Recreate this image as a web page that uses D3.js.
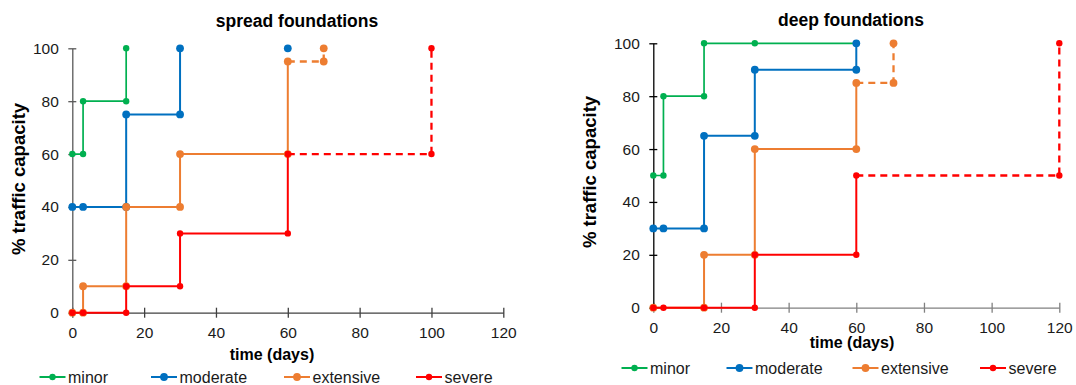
<!DOCTYPE html>
<html>
<head>
<meta charset="utf-8">
<script src="https://cdn.jsdelivr.net/npm/d3@7"></script>
<style>
	body { margin: 0; background: #fff; }
	svg { display: block; font-family: "Liberation Sans", Arial, sans-serif; }
</style>
</head>
<body>
<svg width="1076" height="385"></svg>
<script>
// series order and legend labels
const seriesNames = ['minor', 'moderate', 'extensive', 'severe'];
const seriesColors = ['#00b050', '#0070c0', '#ed7d31', '#ff0000'];

const xTicks = [0, 20, 40, 60, 80, 100, 120];
const yTicks = [0, 20, 40, 60, 80, 100];

// spread foundations: [days, % capacity]
const spreadMinor = [[0, 60], [3, 60], [3, 80], [15, 80], [15, 100]];
const spreadModerate = [[0, 40], [3, 40], [15, 40], [15, 75], [30, 75], [30, 100]];
const spreadModerateLone = [[60, 100]];
const spreadExtensive = [[0, 0], [3, 0], [3, 10], [15, 10], [15, 40], [30, 40], [30, 60], [60, 60], [60, 95]];
const spreadExtensiveDash = [[60, 95], [70, 95], [70, 100]];
const spreadSevere = [[0, 0], [3, 0], [15, 0], [15, 10], [30, 10], [30, 30], [60, 30], [60, 60]];
const spreadSevereDash = [[60, 60], [100, 60], [100, 100]];

// deep foundations
const deepMinor = [[0, 50], [3, 50], [3, 80], [15, 80], [15, 100], [30, 100], [60, 100]];
const deepModerate = [[0, 30], [3, 30], [15, 30], [15, 65], [30, 65], [30, 90], [60, 90], [60, 100]];
const deepExtensive = [[0, 0], [15, 0], [15, 20], [30, 20], [30, 60], [60, 60], [60, 85]];
const deepExtensiveDash = [[60, 85], [71, 85], [71, 100]];
const deepSevere = [[0, 0], [3, 0], [15, 0], [30, 0], [30, 20], [60, 20], [60, 50]];
const deepSevereDash = [[60, 50], [120, 50], [120, 100]];

const svg = d3.select('svg');
const font = '"Liberation Sans", Arial, sans-serif';

function drawChart(cfg) {
	let x = d3.scaleLinear().domain([0, 120]).range(cfg.xRange);
	let y = d3.scaleLinear().domain([0, 100]).range(cfg.yRange);
	let g = svg.append('g');

	// axes
	let xAxis = g.append('g')
		.attr('transform', `translate(0,${y(0)})`)
		.call(d3.axisBottom(x).tickValues(xTicks).tickSizeInner(5).tickSizeOuter(0).tickPadding(9));
	xAxis.selectAll('.tick line').attr('y1', -5);
	xAxis.selectAll('path, line').attr('stroke', cfg.xAxisColor).attr('stroke-width', 1.3);

	let yAxis = g.append('g')
		.attr('transform', `translate(${x(0)},0)`)
		.call(d3.axisLeft(y).tickValues(yTicks).tickSizeInner(4).tickSizeOuter(0).tickPadding(9.5));
	yAxis.selectAll('.tick line').attr('x1', 4);
	yAxis.selectAll('path, line').attr('stroke', cfg.yAxisColor).attr('stroke-width', 1.3);

	g.selectAll('.tick text')
		.attr('font-family', font)
		.attr('font-size', 15.5)
		.attr('fill', '#1a1a1a');

	let line = d3.line().x(d => x(d[0])).y(d => y(d[1]));

	cfg.series.forEach((s, i) => {
		let color = seriesColors[i];
		let sg = g.append('g');
		sg.append('path')
			.datum(s.solid)
			.attr('d', line)
			.attr('fill', 'none')
			.attr('stroke', color)
			.attr('stroke-width', i == 0 ? 1.7 : 2);
		if (s.dash) {
			sg.append('path')
				.datum(s.dash)
				.attr('d', line)
				.attr('fill', 'none')
				.attr('stroke', color)
				.attr('stroke-width', 2.3)
				.attr('stroke-dasharray', '7,5');
		}
		let pts = s.solid.concat(s.dash ? s.dash.slice(1) : [], s.lone || []);
		sg.selectAll('circle')
			.data(pts)
			.join('circle')
			.attr('cx', d => x(d[0]))
			.attr('cy', d => y(d[1]))
			.attr('r', (i == 0 || i == 3) ? 3.2 : 3.9)
			.attr('fill', color);
	});

	// titles
	g.append('text')
		.attr('x', cfg.titleX).attr('y', cfg.titleY)
		.attr('text-anchor', 'middle')
		.attr('font-family', font).attr('font-weight', 'bold').attr('font-size', 17.5)
		.attr('fill', '#000')
		.text(cfg.title);

	g.append('text')
		.attr('x', cfg.xLabelX).attr('y', cfg.xLabelY)
		.attr('text-anchor', 'middle')
		.attr('font-family', font).attr('font-weight', 'bold').attr('font-size', 16)
		.attr('fill', '#000')
		.text('time (days)');

	g.append('text')
		.attr('transform', `translate(${cfg.yLabelX},${cfg.yLabelY}) rotate(-90)`)
		.attr('text-anchor', 'middle')
		.attr('dy', '0.35em')
		.attr('font-family', font).attr('font-weight', 'bold').attr('font-size', 18.5)
		.attr('fill', '#000')
		.text('% traffic capacity');

	// legend
	let lg = g.append('g');
	seriesNames.forEach((name, i) => {
		let lx = cfg.legendX[i];
		let item = lg.append('g').attr('transform', `translate(${lx},${cfg.legendY})`);
		item.append('line')
			.attr('x1', 0).attr('x2', 26)
			.attr('stroke', seriesColors[i]).attr('stroke-width', 2);
		item.append('circle')
			.attr('cx', 13).attr('r', (i == 0 || i == 3) ? 3.2 : 3.9)
			.attr('fill', seriesColors[i]);
		item.append('text')
			.attr('x', 28.5).attr('y', 5.5)
			.attr('font-family', font).attr('font-size', 16)
			.attr('fill', '#1a1a1a')
			.text(name);
	});
}

drawChart({
	title: 'spread foundations',
	xRange: [72.3, 503.3],
	yRange: [312.7, 48.3],
	xAxisColor: '#404040',
	yAxisColor: '#595959',
	titleX: 297, titleY: 27,
	xLabelX: 272, xLabelY: 360,
	yLabelX: 19, yLabelY: 179,
	legendX: [39.5, 151, 284, 416],
	legendY: 377,
	series: [
		{ solid: spreadMinor },
		{ solid: spreadModerate, lone: spreadModerateLone },
		{ solid: spreadExtensive, dash: spreadExtensiveDash },
		{ solid: spreadSevere, dash: spreadSevereDash }
	]
});

drawChart({
	title: 'deep foundations',
	xRange: [653.3, 1059.3],
	yRange: [307.7, 43.3],
	xAxisColor: '#808080',
	yAxisColor: '#000',
	titleX: 851, titleY: 26,
	xLabelX: 852, xLabelY: 348,
	yLabelX: 589.6, yLabelY: 172,
	legendX: [621.5, 726.5, 852.5, 980],
	legendY: 368,
	series: [
		{ solid: deepMinor },
		{ solid: deepModerate },
		{ solid: deepExtensive, dash: deepExtensiveDash },
		{ solid: deepSevere, dash: deepSevereDash }
	]
});
</script>
</body>
</html>
